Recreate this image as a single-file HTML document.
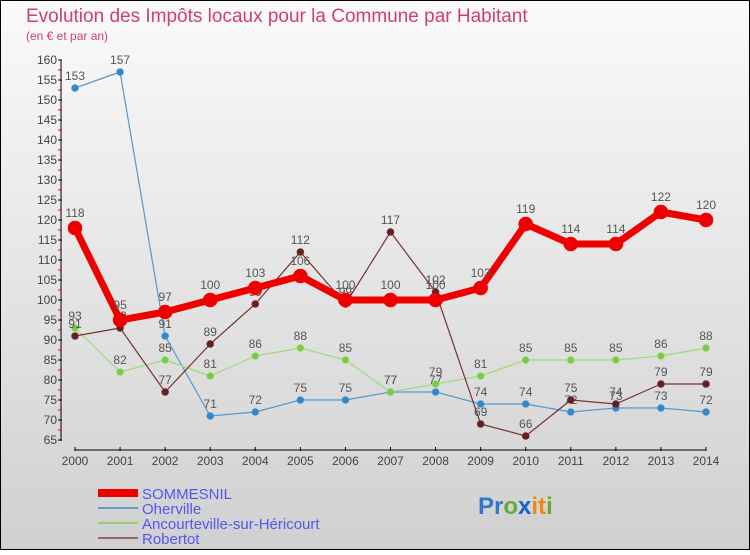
<!DOCTYPE html>
<html><head><meta charset="utf-8"><style>
html,body{margin:0;padding:0}
body{width:750px;height:550px;overflow:hidden;font-family:"Liberation Sans",sans-serif}
svg text{font-family:"Liberation Sans",sans-serif}
</style></head><body>
<svg id="c" width="750" height="550" xmlns="http://www.w3.org/2000/svg">
<defs><linearGradient id="bg" x1="0" y1="0" x2="0" y2="1"><stop offset="0" stop-color="#fafafa"/><stop offset="1" stop-color="#d0d0d0"/></linearGradient></defs>
<rect x="0.5" y="0.5" width="749" height="549" fill="url(#bg)" stroke="#000"/>
<text x="26" y="22" font-size="19" fill="#d0406a">Evolution des Impôts locaux pour la Commune par Habitant</text>
<text x="26" y="40" font-size="12" fill="#d0406a">(en € et par an)</text>
<g id="axes"></g><g id="series"></g>
<g>
<rect x="98" y="489" width="40" height="8" fill="#ee0000"/>
<text x="142" y="499" font-size="15" fill="#5555ee">SOMMESNIL</text>
<rect x="98" y="507" width="40" height="2" fill="#6699cc"/>
<text x="142" y="514" font-size="15" fill="#5555ee">Oherville</text>
<rect x="98" y="522" width="40" height="2" fill="#99cc77"/>
<text x="142" y="529" font-size="15" fill="#5555ee">Ancourteville-sur-Héricourt</text>
<rect x="98" y="537" width="40" height="2" fill="#996666"/>
<text x="142" y="544" font-size="15" fill="#5555ee">Robertot</text>
</g>
<text x="478" y="514" font-size="24" font-weight="bold"><tspan fill="#3377cc">Pr</tspan><tspan fill="#66aa33">o</tspan><tspan fill="#1166cc">x</tspan><tspan fill="#ee8811">it</tspan><tspan fill="#66aa33">i</tspan></text>
</svg>
<script>
const years=[2000,2001,2002,2003,2004,2005,2006,2007,2008,2009,2010,2011,2012,2013,2014];
const yTicks=[65,70,75,80,85,90,95,100,105,110,115,120,125,130,135,140,145,150,155,160];
const sommesnil=[118,95,97,100,103,106,100,100,100,103,119,114,114,122,120];
const oherville=[153,157,91,71,72,75,75,77,77,74,74,72,73,73,72];
const ancourteville=[93,82,85,81,86,88,85,77,79,81,85,85,85,86,88];
const robertot=[91,93,77,89,99,112,99,117,102,69,66,75,74,79,79];
const NS="http://www.w3.org/2000/svg";
function X(i){return 75+i*(706-75)/(years.length-1);}
function Y(v){return 60+(160-v)*4;}
function mk(tag,attrs,parent){const e=document.createElementNS(NS,tag);for(const k in attrs)e.setAttribute(k,attrs[k]);parent.appendChild(e);return e;}
const ax=document.getElementById('axes');
let l=mk('line',{x1:61,y1:60,x2:61,y2:441,stroke:'#000','stroke-width':1},ax);


l=mk('line',{x1:75,y1:450,x2:706,y2:450,stroke:'#000','stroke-width':1},ax);


yTicks.forEach(v=>{
 mk('line',{x1:58,y1:Y(v),x2:62,y2:Y(v),stroke:'#000'},ax);
 if(v<160) mk('line',{x1:58,y1:Y(v+2.5),x2:62,y2:Y(v+2.5),stroke:'#e00'},ax);
 const t=mk('text',{x:57,y:Y(v)+4,'font-size':12,'text-anchor':'end',fill:'#444'},ax);
 t.textContent=v;
 
 
});
years.forEach((yr,i)=>{
 mk('line',{x1:X(i),y1:447,x2:X(i),y2:451,stroke:'#000'},ax);
 const t=mk('text',{x:X(i),y:465,'font-size':12,'text-anchor':'middle',fill:'#444'},ax);
 t.textContent=yr;
 
 
});
const sg=document.getElementById('series');
function draw(data,name,color,dot,w,r,fs){
 const g=mk('g',{},sg);
 
 
 const p=mk('polyline',{points:data.map((v,i)=>X(i)+','+Y(v)).join(' '),fill:'none',stroke:color,'stroke-width':w,'stroke-linejoin':'round'},g);
 
 
 data.forEach((v,i)=>{
  const c=mk('circle',{cx:X(i),cy:Y(v),r:r,fill:dot,stroke:color,'stroke-width':0.6},g);
  
  
  const t=mk('text',{x:X(i),y:Y(v)-8-(r>4?3:0),'font-size':fs,'text-anchor':'middle',fill:'#555'},g);
  t.textContent=v;
  
  
 });
}
draw(oherville,'oherville','#5599cc','#3388cc',1.2,3.5,12);
draw(ancourteville,'ancourteville','#99dd77','#77cc44',1.2,3.5,12);
draw(robertot,'robertot','#773333','#661f1f',1.2,3.5,12);
draw(sommesnil,'sommesnil','#ee0000','#ee0000',7,7,12);
</script>
</body></html>
